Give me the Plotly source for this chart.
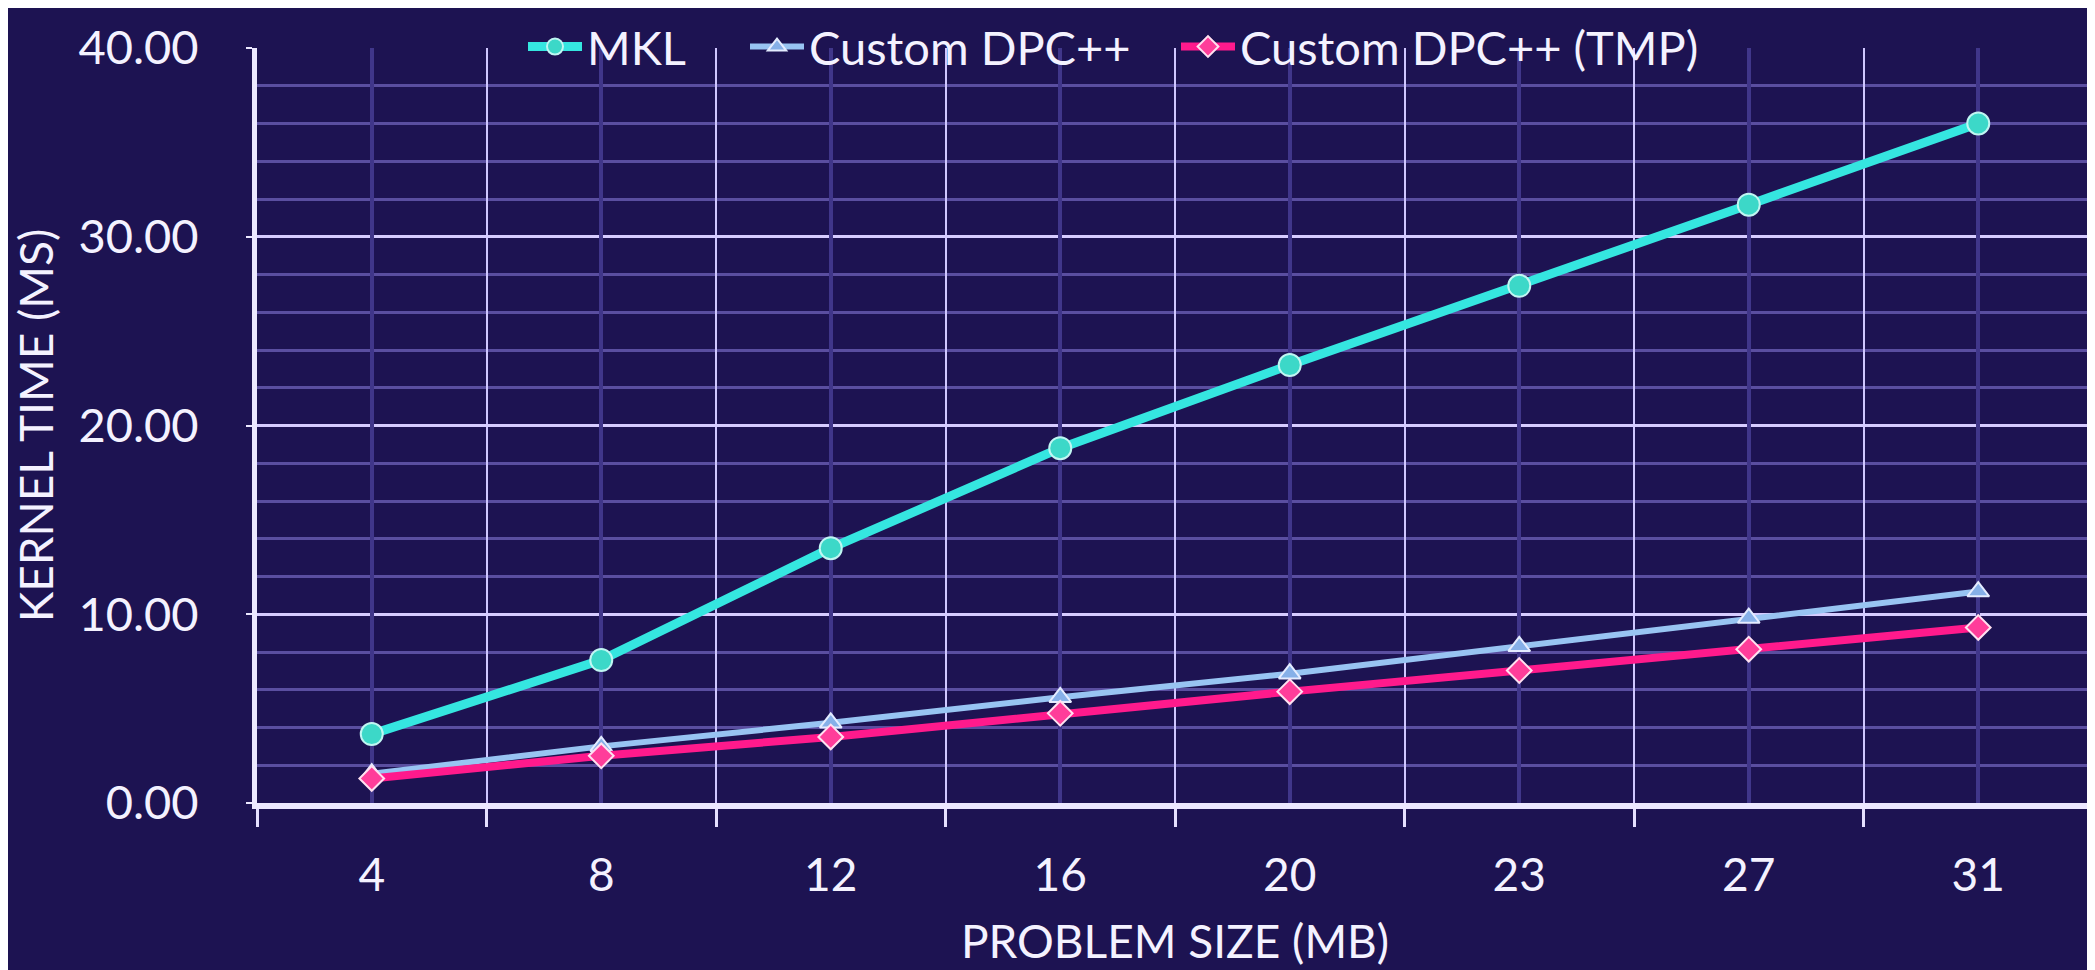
import plotly.graph_objects as go

sizes = ["4", "8", "12", "16", "20", "23", "27", "31"]
mkl = [3.65, 7.57, 13.5, 18.8, 23.2, 27.4, 31.7, 36.0]
dpcpp = [1.55, 3.0, 4.25, 5.6, 6.85, 8.3, 9.8, 11.2]
dpcpp_tmp = [1.3, 2.5, 3.5, 4.75, 5.9, 7.02, 8.15, 9.3]

series_names = ["MKL", "Custom DPC++", "Custom DPC++ (TMP)"]
y_ticks = [0, 10, 20, 30, 40]

BG = "#1d1352"
FONT = "Lato"
TXT = "#f4f2ff"

# page body has an 8px margin; work in window pixels and convert
OFF = 8
W, H = 2095 - OFF, 970 - OFF
ml = 257 - OFF
mt = 44 - OFF
mr = W - (2093 - OFF)
mb = H - (803 - OFF)
pw = W - ml - mr
ph = H - mt - mb


def px2x(win_px):
    return (win_px - OFF - ml) / pw


def py2y(win_py):
    return (H - mb - (win_py - OFF)) / ph


fig = go.Figure()
fig.add_trace(go.Scatter(
    x=sizes, y=mkl, name=series_names[0], mode="lines+markers",
    line=dict(color="#35e6e0", width=9),
    marker=dict(symbol="circle", size=22, color="#3cd8c8", line=dict(color="#c0f6f2", width=2)),
    legend="legend",
))
fig.add_trace(go.Scatter(
    x=sizes, y=dpcpp, name=series_names[1], mode="lines+markers",
    line=dict(color="#98c4f2", width=6),
    marker=dict(symbol="triangle-up", size=19, color="#86b0e8", line=dict(color="#e4ecff", width=2)),
    legend="legend2",
))
fig.add_trace(go.Scatter(
    x=sizes, y=dpcpp_tmp, name=series_names[2], mode="lines+markers",
    line=dict(color="#ff1a8c", width=8),
    marker=dict(symbol="diamond", size=19, color="#ff3d9a", line=dict(color="#ffe0f0", width=2)),
    xaxis="x2", legend="legend3",
))

leg_common = dict(
    orientation="h", yanchor="middle", y=py2y(43), xanchor="left",
    bgcolor="rgba(0,0,0,0)", borderwidth=0, itemwidth=54,
    font=dict(family=FONT, size=47, color=TXT),
)

fig.update_layout(
    width=W, height=H,
    margin=dict(l=ml, r=mr, t=mt, b=mb),
    paper_bgcolor=BG, plot_bgcolor=BG,
    font=dict(family=FONT, color=TXT, size=46),
    showlegend=True,
    legend=dict(x=px2x(523), **leg_common),
    legend2=dict(x=px2x(745), **leg_common),
    legend3=dict(x=px2x(1176), **leg_common),
    xaxis=dict(
        type="category", categoryarray=sizes, categoryorder="array",
        range=[-0.5, len(sizes) - 0.5],
        tickson="boundaries", ticks="outside", ticklen=18, tickwidth=3, tickcolor="#e6e0ff",
        showgrid=True, gridcolor="#cfc6ff", gridwidth=2,
        showline=True, linecolor="#ece8ff", linewidth=6,
        zeroline=False,
        tickfont=dict(family=FONT, size=46, color=TXT),
        ticklabelstandoff=27,
        title=dict(text="PROBLEM SIZE (MB)", font=dict(family=FONT, size=46, color=TXT), standoff=28),
    ),
    xaxis2=dict(
        type="category", categoryarray=sizes, categoryorder="array",
        range=[-0.5, len(sizes) - 0.5], overlaying="x",
        showgrid=True, gridcolor="#40368a", gridwidth=4,
        showticklabels=False, ticks="", showline=False, zeroline=False,
    ),
    yaxis=dict(
        range=[0, 40], tickvals=y_ticks, tickformat=".2f",
        showgrid=True, gridcolor="#d6ccff", gridwidth=3,
        minor=dict(dtick=2, showgrid=True, gridcolor="#5a4ea0", gridwidth=3),
        showline=True, linecolor="#ece8ff", linewidth=5,
        ticks="outside", ticklen=6, tickwidth=2, tickcolor="#ece8ff",
        zeroline=False,
        tickfont=dict(family=FONT, size=47, color=TXT),
        ticklabelstandoff=38,
        title=dict(text="KERNEL TIME (MS)", font=dict(family=FONT, size=46, color=TXT), standoff=12),
    ),
)

fig.write_html("out.html")
